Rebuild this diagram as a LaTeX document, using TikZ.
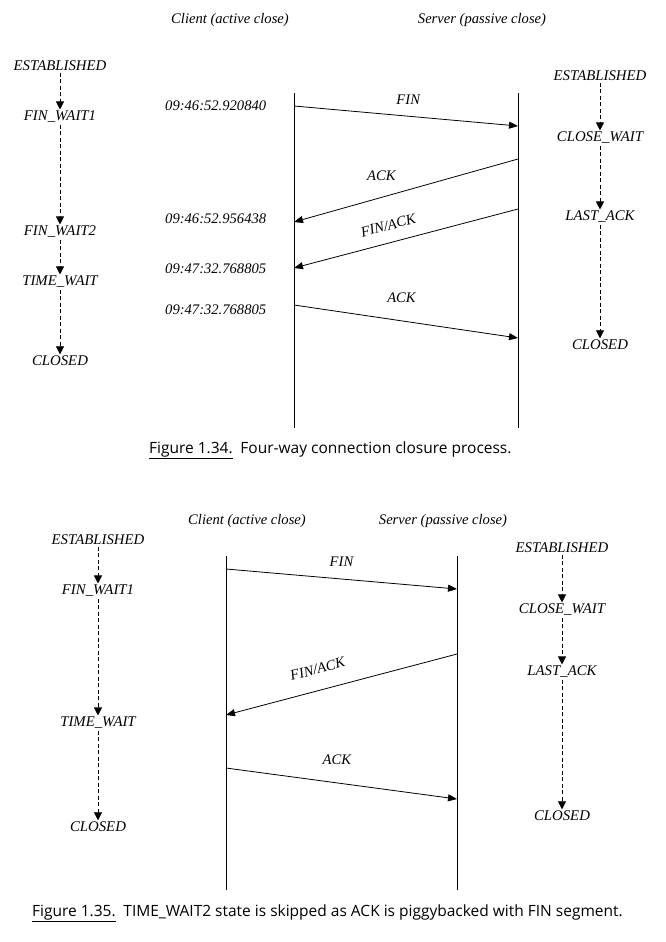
\documentclass[tikz,border=0pt]{standalone}
\usepackage{fontspec}
\setmainfont{Liberation Serif}
\newfontfamily\captionFont{Open Sans}
\usetikzlibrary{arrows.meta}
\tikzstyle{sequence} = [x = 1pt, y = -1pt]
\tikzstyle{stateLabel} = [font=\itshape\fontsize{14.8}{17}\selectfont, inner sep=1.5pt]
\tikzstyle{timeLabel} = [font=\itshape\fontsize{14.6}{17}\selectfont, inner sep=0pt, anchor=west]
\tikzstyle{headLabel} = [font=\itshape\fontsize{14.6}{17}\selectfont, inner sep=0pt]
\tikzstyle{msgLabel} = [font=\itshape\fontsize{14.6}{17}\selectfont, inner sep=0pt]
\tikzstyle{stateArrow} = [line width=0.8pt, dash pattern=on 4pt off 2.5pt, -{Triangle[length=8pt, width=8pt]}]
\tikzstyle{msgArrow} = [line width=0.8pt, -{Triangle[length=9pt, width=7pt]}]
\tikzstyle{lifeLine} = [line width=0.9pt]
\tikzstyle{captionText} = [font=\captionFont\fontsize{15.5}{18}\selectfont, inner sep=0pt, anchor=west]
\newcommand{\lifeLines}[5]{
  \coordinate (cliTop#1) at (#2,#4);
  \coordinate (cliBot#1) at (#2,#5);
  \coordinate (srvTop#1) at (#3,#4);
  \coordinate (srvBot#1) at (#3,#5);
  \draw [lifeLine] (cliTop#1) -- (cliBot#1);
  \draw [lifeLine] (srvTop#1) -- (srvBot#1);
}
\begin{document}
\begin{tikzpicture}[sequence]
  \useasboundingbox (0,0) rectangle (665,942);

  % Figure 1.34
  \node [headLabel] (cliHeadA) at (230,20) {Client (active close)};
  \node [headLabel] (srvHeadA) at (482,20) {Server (passive close)};
  \lifeLines{A}{294}{518}{93}{428}

  \node [stateLabel] (estCliA) at (60,66) {ESTABLISHED};
  \node [stateLabel] (finWaitOneA) at (60,117) {FIN\_WAIT1};
  \node [stateLabel] (finWaitTwoA) at (60,232) {FIN\_WAIT2};
  \node [stateLabel] (timeWaitA) at (60,282) {TIME\_WAIT};
  \node [stateLabel] (closedCliA) at (60,361) {CLOSED};
  \node [stateLabel] (estSrvA) at (600,76) {ESTABLISHED};
  \node [stateLabel] (closeWaitA) at (600,138) {CLOSE\_WAIT};
  \node [stateLabel] (lastAckA) at (600,217) {LAST\_ACK};
  \node [stateLabel] (closedSrvA) at (600,345) {CLOSED};
  \foreach \from/\to in {estCliA/finWaitOneA, finWaitOneA/finWaitTwoA, finWaitTwoA/timeWaitA,
      timeWaitA/closedCliA, estSrvA/closeWaitA, closeWaitA/lastAckA, lastAckA/closedSrvA}
    \draw [stateArrow] (\from) -- (\to);

  \node [timeLabel] (timeOneA) at (165,106) {09:46:52.920840};
  \node [timeLabel] (timeTwoA) at (165,219) {09:46:52.956438};
  \node [timeLabel] (timeThreeA) at (165,269) {09:47:32.768805};
  \node [timeLabel] (timeFourA) at (165,310) {09:47:32.768805};

  \coordinate (finOutA) at (294,106);
  \coordinate (finInA) at (518,126);
  \coordinate (ackOutA) at (518,159);
  \coordinate (ackInA) at (294,222);
  \coordinate (finAckOutA) at (518,209);
  \coordinate (finAckInA) at (294,268);
  \coordinate (lastOutA) at (294,305);
  \coordinate (lastInA) at (518,338);
  \draw [msgArrow] (finOutA) -- node [msgLabel, pos=0.51, above=11pt] (finLabelA) {FIN} (finInA);
  \draw [msgArrow] (ackOutA) -- node [msgLabel, pos=0.61, above=16pt] (ackLabelA) {ACK} (ackInA);
  \draw [msgArrow] (finAckOutA) -- node [msgLabel, pos=0.56, above=12pt, sloped] (finAckLabelA) {FIN/ACK} (finAckInA);
  \draw [msgArrow] (lastOutA) -- node [msgLabel, pos=0.48, above=18pt] (lastLabelA) {ACK} (lastInA);

  \node [captionText] (captionA) at (149,450) {\underline{Figure 1.34.}\enspace Four-way connection closure process.};

  % Figure 1.35
  \node [headLabel] (cliHeadB) at (247,521) {Client (active close)};
  \node [headLabel] (srvHeadB) at (443,521) {Server (passive close)};
  \lifeLines{B}{226}{457}{556}{890}

  \node [stateLabel] (estCliB) at (98,540) {ESTABLISHED};
  \node [stateLabel] (finWaitOneB) at (98,591) {FIN\_WAIT1};
  \node [stateLabel] (timeWaitB) at (98,723) {TIME\_WAIT};
  \node [stateLabel] (closedCliB) at (98,827) {CLOSED};
  \node [stateLabel] (estSrvB) at (562,548) {ESTABLISHED};
  \node [stateLabel] (closeWaitB) at (562,610) {CLOSE\_WAIT};
  \node [stateLabel] (lastAckB) at (562,672) {LAST\_ACK};
  \node [stateLabel] (closedSrvB) at (562,816) {CLOSED};
  \foreach \from/\to in {estCliB/finWaitOneB, finWaitOneB/timeWaitB, timeWaitB/closedCliB,
      estSrvB/closeWaitB, closeWaitB/lastAckB, lastAckB/closedSrvB}
    \draw [stateArrow] (\from) -- (\to);

  \coordinate (finOutB) at (226,569);
  \coordinate (finInB) at (457,589);
  \coordinate (finAckOutB) at (457,654);
  \coordinate (finAckInB) at (226,715);
  \coordinate (lastOutB) at (226,768);
  \coordinate (lastInB) at (457,799);
  \draw [msgArrow] (finOutB) -- node [msgLabel, pos=0.50, above=12pt] (finLabelB) {FIN} (finInB);
  \draw [msgArrow] (finAckOutB) -- node [msgLabel, pos=0.58, above=16pt, sloped] (finAckLabelB) {FIN/ACK} (finAckInB);
  \draw [msgArrow] (lastOutB) -- node [msgLabel, pos=0.48, above=18pt] (lastLabelB) {ACK} (lastInB);

  \node [captionText] (captionB) at (32,913) {\underline{Figure 1.35.}\enspace TIME\_WAIT2 state is skipped as ACK is piggybacked with FIN segment.};
\end{tikzpicture}
\end{document}
